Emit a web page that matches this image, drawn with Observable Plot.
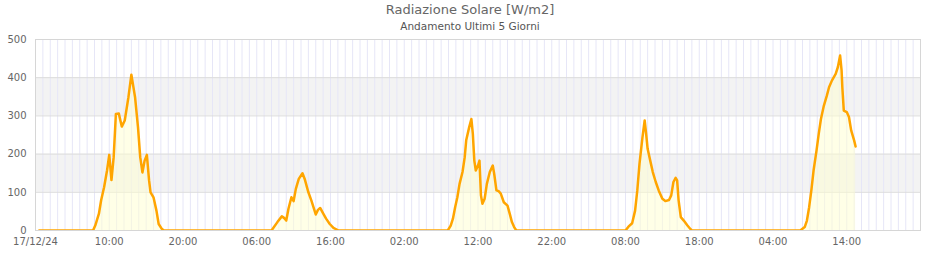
<!DOCTYPE html>
<html>
<head>
<meta charset="utf-8">
<script src="https://cdn.jsdelivr.net/npm/d3@7"></script>
<script src="https://cdn.jsdelivr.net/npm/@observablehq/plot@0.6"></script>
<style>
  html, body { margin: 0; padding: 0; background: #fff; }
  #wrap { width: 940px; height: 260px; font-family: "DejaVu Sans", sans-serif; }
  #head { height: 34px; text-align: center; position: relative; }
  #title { position: absolute; left: 0; right: 0; top: 2px; font-size: 13px; color: #666; }
  #subtitle { position: absolute; left: 0; right: 0; top: 20px; font-size: 10.5px; color: #555; }
  svg { display: block; }
</style>
</head>
<body>
<div id="wrap">
  <div id="head">
    <div id="title">Radiazione Solare [W/m2]</div>
    <div id="subtitle">Andamento Ultimi 5 Giorni</div>
  </div>
  <div id="chart"></div>
</div>
<script>
// Start of the 5-day window
const startDate = "2024-12-17T00:00:00Z";
const endDate = "2024-12-22T00:00:00Z";

// Hours elapsed since startDate for each reading
const hoursFromStart = [
  0.5, 7.8, 8.1, 8.6, 8.9, 9.3, 9.7, 10.0, 10.3, 10.6, 10.9, 11.3, 11.7, 12.1, 12.6, 13.0, 13.5, 13.9, 14.2, 14.5, 14.8, 15.1, 15.4, 15.6, 16.0, 16.4, 16.7, 17.1, 17.4,
  32.0, 32.8, 33.4, 33.7, 34.0, 34.3, 34.7, 35.0, 35.3, 35.7, 36.2, 36.5, 37.0, 37.4, 38.0, 38.3, 38.6, 39.0, 39.4, 39.9, 40.4, 40.9, 41.1,
  55.9, 56.3, 56.6, 56.9, 57.2, 57.5, 57.9, 58.2, 58.4, 58.8, 59.1, 59.3, 59.5, 59.7, 60.0, 60.2, 60.4, 60.6, 60.9, 61.2, 61.6, 62.0, 62.2, 62.5, 62.8, 63.1, 63.5, 64.0, 64.3, 64.6, 64.9, 65.2,
  80.0, 80.4, 80.9, 81.3, 81.6, 81.9, 82.3, 82.6, 82.8, 83.0, 83.4, 83.7, 84.1, 84.5, 85.0, 85.4, 85.9, 86.2, 86.5, 86.8, 87.0, 87.2, 87.5, 87.9, 88.4, 88.8, 89.0,
  103.7, 104.3, 104.6, 104.9, 105.2, 105.5, 105.9, 106.2, 106.5, 106.9, 107.3, 107.6, 108.0, 108.5, 108.8, 109.1, 109.3, 109.4, 109.6, 110.0, 110.3, 110.6, 111.0, 111.2
];

// Solar radiation W/m2
const radiation = [
  0, 0, 13, 44, 79, 113, 157, 198, 132, 192, 305, 306, 272, 288, 349, 408, 349, 270, 192, 152, 183, 198, 131, 100, 87, 52, 17, 5, 0,
  0, 22, 37, 33, 26, 57, 87, 77, 109, 135, 150, 135, 100, 79, 42, 54, 59, 45, 31, 17, 7, 2, 0,
  0, 13, 31, 61, 87, 122, 153, 192, 236, 270, 292, 253, 183, 157, 170, 183, 92, 70, 83, 122, 153, 170, 148, 105, 103, 96, 74, 65, 44, 22, 9, 0,
  0, 10, 19, 52, 105, 175, 244, 288, 253, 214, 179, 153, 127, 105, 83, 77, 80, 92, 127, 138, 131, 79, 35, 26, 13, 4, 0,
  0, 9, 26, 61, 105, 157, 209, 253, 292, 327, 353, 375, 393, 410, 428, 458, 419, 375, 314, 310, 297, 262, 236, 220
];

const yTicks = [0, 100, 200, 300, 400, 500];
// x tick positions, hours since startDate
const xTickHours = [0, 10, 20, 30, 40, 50, 60, 70, 80, 90, 100, 110];
const bandLow = [100, 300];
const bandHigh = [200, 400];

const t0 = new Date(startDate);
const t1 = new Date(endDate);
const data = hoursFromStart.map((h, i) => ({ t: new Date(+t0 + h * 3600e3), v: radiation[i] }));
const bands = bandLow.map((lo, i) => ({ lo, hi: bandHigh[i] }));
const hourGrid = d3.utcHour.range(t0, t1);
const xTicks = xTickHours.map(h => new Date(+t0 + h * 3600e3));

const fmtTick = d => (+d === +t0) ? d3.utcFormat("%d/%m/%y")(d) : d3.utcFormat("%H:%M")(d);

const chart = Plot.plot({
  width: 940,
  height: 226,
  marginTop: 5,
  marginBottom: 30,
  marginLeft: 35,
  marginRight: 20,
  style: { fontFamily: "DejaVu Sans, sans-serif", fontSize: "10px", color: "#666", background: "#fff" },
  x: { type: "utc", domain: [t0, t1] },
  y: { domain: [0, 500] },
  marks: [
    Plot.rectY(bands, { y1: "lo", y2: "hi", fill: "#f3f3f3" }),
    Plot.ruleX(hourGrid, { stroke: "#e6e6f7", strokeWidth: 1 }),
    Plot.ruleY(yTicks, { stroke: "#dcdcdc", strokeWidth: 1 }),
    Plot.areaY(data, { x: "t", y: "v", fill: "#ffffd0", fillOpacity: 0.5, clip: true }),
    Plot.lineY(data, { x: "t", y: "v", stroke: "#ffa500", strokeWidth: 2.5, strokeLinejoin: "round", clip: true }),
    Plot.frame({ stroke: "#d6d6d6" }),
    Plot.axisY({ ticks: yTicks, tickSize: 0, tickPadding: 9, label: null, fill: "#666" }),
    Plot.axisX({ ticks: xTicks, tickSize: 0, tickPadding: 7, tickFormat: fmtTick, label: null, fill: "#666" })
  ]
});
document.getElementById("chart").appendChild(chart);
</script>
</body>
</html>
